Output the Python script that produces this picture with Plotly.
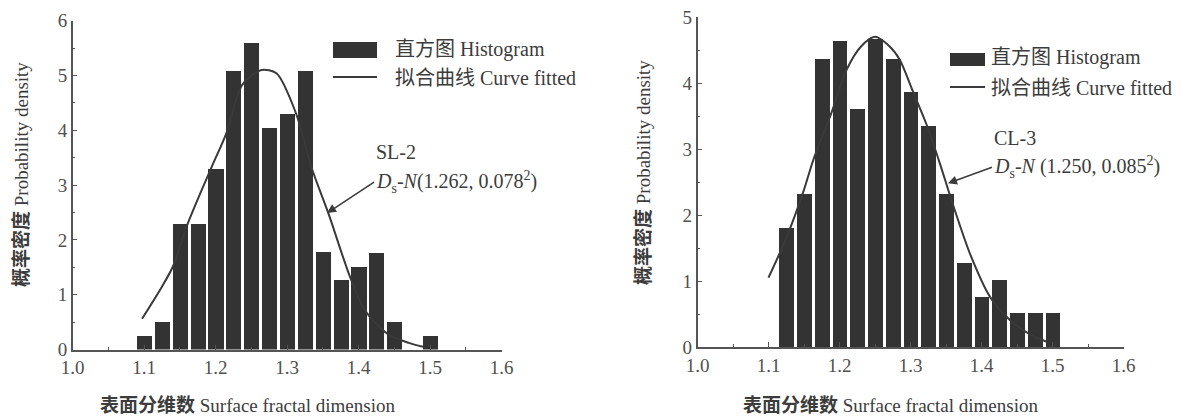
import plotly.graph_objects as go

# ---------------- data ----------------
left_bin_x = [1.100, 1.125, 1.150, 1.175, 1.200, 1.225, 1.250, 1.275, 1.300,
              1.325, 1.350, 1.375, 1.400, 1.425, 1.450, 1.475, 1.500]
left_bin_y = [0.25, 0.51, 2.30, 2.30, 3.30, 5.08, 5.59, 4.05, 4.30,
              5.08, 1.78, 1.27, 1.52, 1.77, 0.51, 0.00, 0.25]
left_curve_x = [1.097, 1.125, 1.140, 1.161, 1.194, 1.215, 1.237, 1.264, 1.285,
                1.312, 1.334, 1.358, 1.388, 1.409, 1.441, 1.470, 1.490]
left_curve_y = [0.56, 1.15, 1.51, 2.30, 3.32, 3.95, 4.83, 5.10, 5.04,
                4.32, 3.32, 2.47, 1.32, 0.71, 0.28, 0.12, 0.05]

right_bin_x = [1.125, 1.150, 1.175, 1.200, 1.225, 1.250, 1.275, 1.300,
               1.325, 1.350, 1.375, 1.400, 1.425, 1.450, 1.475, 1.500]
right_bin_y = [1.80, 2.32, 4.37, 4.64, 3.61, 4.66, 4.37, 3.86,
               3.35, 2.32, 1.28, 0.76, 1.02, 0.51, 0.51, 0.51]
right_curve_x = [1.100, 1.125, 1.149, 1.163, 1.189, 1.210, 1.230, 1.250, 1.270,
                 1.285, 1.3035, 1.323, 1.342, 1.360, 1.385, 1.412, 1.440, 1.470, 1.492]
right_curve_y = [1.05, 1.65, 2.35, 2.83, 3.56, 4.20, 4.55, 4.70, 4.56,
                 4.35, 3.87, 3.36, 2.76, 2.15, 1.38, 0.76, 0.41, 0.18, 0.08]

x_ticks = [1.0, 1.1, 1.2, 1.3, 1.4, 1.5, 1.6]
x_tick_text = ["1.0", "1.1", "1.2", "1.3", "1.4", "1.5", "1.6"]
left_y_ticks = [0, 1, 2, 3, 4, 5, 6]
right_y_ticks = [0, 1, 2, 3, 4, 5]

legend_bar = "直方图 Histogram"
legend_line = "拟合曲线 Curve fitted"
x_title = "<b>表面分维数</b> Surface fractal dimension"
y_title = "<b>概率密度</b> Probability density"
left_label = "SL-2"
left_formula = "<i>D</i><sub>s</sub>-<i>N</i>(1.262, 0.078<sup>2</sup>)"
right_label = "CL-3"
right_formula = "<i>D</i><sub>s</sub>-<i>N</i> (1.250, 0.085<sup>2</sup>)"
# points on the fitted curves that the arrows point at
left_arrow_pt = (1.3557, 2.49)
right_arrow_pt = (1.3528, 2.48)

# ---------------- style ----------------
W, H = 1188, 418
FONT = "Liberation Serif, 'Noto Sans CJK SC', serif"
TXT = "#3c3c3c"
BAR = "#333333"
LINE = "#3a3a3a"
AX = "#555555"

def px(xp):
    return xp / W

def py(yp):
    return 1 - yp / H

fig = go.Figure()
fig.add_trace(go.Bar(x=left_bin_x, y=left_bin_y, width=0.021,
                     marker=dict(color=BAR, line=dict(width=0)),
                     xaxis="x", yaxis="y", showlegend=False))
fig.add_trace(go.Scatter(x=left_curve_x, y=left_curve_y, mode="lines",
                         line=dict(color=LINE, width=2, shape="spline", smoothing=0.8),
                         xaxis="x", yaxis="y", showlegend=False))
fig.add_trace(go.Bar(x=right_bin_x, y=right_bin_y, width=0.021,
                     marker=dict(color=BAR, line=dict(width=0)),
                     xaxis="x2", yaxis="y2", showlegend=False))
fig.add_trace(go.Scatter(x=right_curve_x, y=right_curve_y, mode="lines",
                         line=dict(color=LINE, width=2, shape="spline", smoothing=0.8),
                         xaxis="x2", yaxis="y2", showlegend=False))

axis_common = dict(showline=True, linecolor=AX, linewidth=1.5, ticks="inside",
                   ticklen=5, tickwidth=1.2, tickcolor=AX, showgrid=False,
                   zeroline=False, mirror=False, automargin=False,
                   tickfont=dict(family=FONT, size=19, color="#505050"))
xminor = dict(dtick=0.05, tick0=1.0, ticks="inside", ticklen=3, tickcolor=AX)
yminor = dict(dtick=0.5, tick0=0, ticks="inside", ticklen=3, tickcolor=AX)

fig.update_layout(
    width=W, height=H, margin=dict(l=0, r=0, t=0, b=0, autoexpand=False),
    paper_bgcolor="white", plot_bgcolor="white", bargap=0,
    font=dict(family=FONT, color=TXT),
    xaxis=dict(domain=[px(72.7), px(501.7)], range=[1.0, 1.6], anchor="y",
               tickvals=x_ticks, ticktext=x_tick_text, minor=xminor, **axis_common),
    yaxis=dict(domain=[py(349.5), py(20.7)], range=[0, 6], anchor="x",
               tickvals=left_y_ticks, minor=yminor, **axis_common),
    xaxis2=dict(domain=[px(697.5), px(1123.5)], range=[1.0, 1.6], anchor="y2",
                tickvals=x_ticks, ticktext=x_tick_text, minor=xminor, **axis_common),
    yaxis2=dict(domain=[py(347), py(17)], range=[0, 5], anchor="x2",
                tickvals=right_y_ticks, minor=yminor, **axis_common),
)

# legend keys (decoration)
shapes = [
    dict(type="rect", xref="paper", yref="paper", x0=px(333), x1=px(377),
         y0=py(58), y1=py(42), fillcolor=BAR, line=dict(width=0)),
    dict(type="line", xref="paper", yref="paper", x0=px(333), x1=px(377),
         y0=py(77), y1=py(77), line=dict(color=LINE, width=2)),
    dict(type="rect", xref="paper", yref="paper", x0=px(950), x1=px(985),
         y0=py(66), y1=py(53), fillcolor=BAR, line=dict(width=0)),
    dict(type="line", xref="paper", yref="paper", x0=px(950), x1=px(985),
         y0=py(87), y1=py(87), line=dict(color=LINE, width=2)),
]
fig.update_layout(shapes=shapes)

ann = []
def txt(x, y, s, size=20, xanchor="left", angle=0):
    ann.append(dict(x=px(x), y=py(y), xref="paper", yref="paper", text=s,
                    showarrow=False, xanchor=xanchor, yanchor="middle",
                    textangle=angle, font=dict(family=FONT, size=size, color=TXT)))

txt(393, 49, legend_bar)
txt(393, 78, legend_line)
txt(989, 58, legend_bar)
txt(989, 88, legend_line)
txt(374, 152, left_label)
txt(992, 138, right_label)
txt(247, 405, x_title, size=19, xanchor="center")
txt(890, 405, x_title, size=19, xanchor="center")
txt(21, 175, y_title, size=19, xanchor="center", angle=-90)
txt(643, 172, y_title, size=19, xanchor="center", angle=-90)

# formula texts with arrows pointing to the curves
ann.append(dict(x=left_arrow_pt[0], y=left_arrow_pt[1], xref="x", yref="y",
                text=left_formula, showarrow=True, arrowhead=2, arrowsize=1.2,
                arrowwidth=1.5, arrowcolor=LINE, ax=47, ay=-31,
                xanchor="left", yanchor="middle",
                font=dict(family=FONT, size=20, color=TXT)))
ann.append(dict(x=right_arrow_pt[0], y=right_arrow_pt[1], xref="x2", yref="y2",
                text=right_formula, showarrow=True, arrowhead=2, arrowsize=1.2,
                arrowwidth=1.5, arrowcolor=LINE, ax=44, ay=-16,
                xanchor="left", yanchor="middle",
                font=dict(family=FONT, size=20, color=TXT)))
fig.update_layout(annotations=ann)

fig.write_html("out.html",
               config={"displayModeBar": False},
               post_script="document.body.style.margin='0';"
                           "document.body.style.overflow='hidden';")
